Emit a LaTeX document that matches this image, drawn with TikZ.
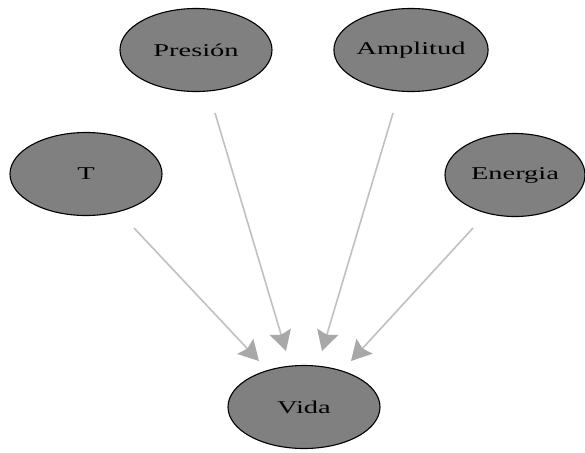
\documentclass[tikz,border=0pt]{standalone}
\usepackage{fontspec}
\setmainfont{Liberation Serif}
\usetikzlibrary{shapes.geometric,arrows.meta}
\definecolor{nodefill}{RGB}{128,128,128}
\definecolor{edgecol}{RGB}{192,192,192}
\definecolor{tipcol}{RGB}{168,168,168}
\tikzset{
  var/.style={ellipse, draw=black, line width=1.1pt, fill=nodefill,
    minimum width=152pt, minimum height=83pt, inner sep=0pt,
    font=\fontsize{18}{20}\selectfont, text=black},
  link/.style={draw=edgecol, line width=1.6pt,
    -{Stealth[length=20pt,width=22pt,inset=3pt,color=tipcol]}}
}
\newcommand{\wide}[1]{\scalebox{1.58}[1]{#1}}
\begin{document}
\begin{tikzpicture}[x=1pt,y=-1pt]
\useasboundingbox (0,0) rectangle (585,452);
\node[var] (pres) at (196,50) {\wide{Presión}};
\node[var] (ampl) at (411,50) {\wide{Amplitud}};
\node[var] (t) at (86,174) {\wide{T}};
\node[var, minimum width=140pt] (ener) at (515,175) {\wide{Energia}};
\node[var] (vida) at (304,407) {\wide{Vida}};
\coordinate (ts) at (134,228);
\coordinate (te) at (259,361);
\coordinate (ps) at (215,113);
\coordinate (pe) at (286,351);
\coordinate (as) at (393,113);
\coordinate (ae) at (322,351);
\coordinate (es) at (473,228);
\coordinate (ee) at (351,361);
\draw[link] (ts) -- (te);
\draw[link] (ps) -- (pe);
\draw[link] (as) -- (ae);
\draw[link] (es) -- (ee);
\end{tikzpicture}
\end{document}
